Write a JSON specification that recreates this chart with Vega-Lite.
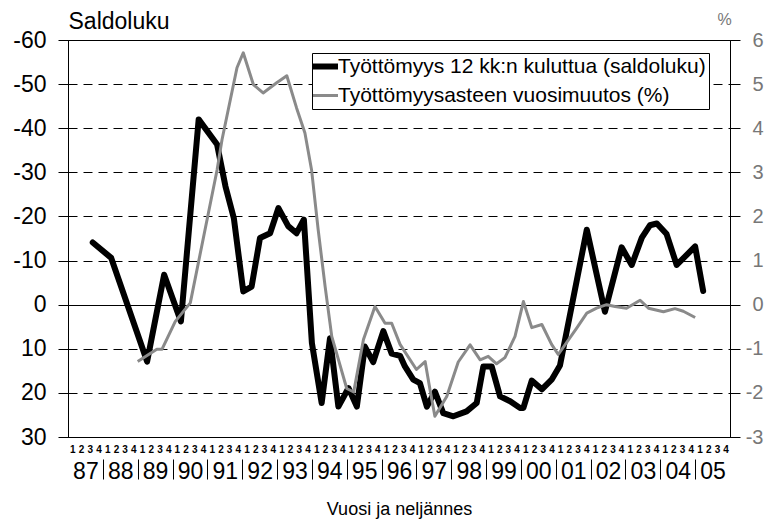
{
  "$schema": "https://vega.github.io/schema/vega-lite/v6.json",
  "width": 662,
  "height": 397,
  "autosize": "none",
  "padding": {"left": 68, "top": 40, "right": 37, "bottom": 91},
  "background": "white",
  "config": {
    "font": "Liberation Sans",
    "view": {"stroke": "black", "strokeWidth": 1},
    "axis": {"labelFont": "Liberation Sans", "titleFont": "Liberation Sans", "titleFontWeight": "normal"}
  },
  "datasets": {
    "black": [
      {"t": 1987.71, "saldoluku": -14.1}, {"t": 1988.24, "saldoluku": -10.6}, {"t": 1989.27, "saldoluku": 12.9},
      {"t": 1989.76, "saldoluku": -6.8}, {"t": 1990.24, "saldoluku": 3.8}, {"t": 1990.75, "saldoluku": -42.0},
      {"t": 1991.28, "saldoluku": -36.3}, {"t": 1991.52, "saldoluku": -26.8}, {"t": 1991.76, "saldoluku": -19.6},
      {"t": 1992.03, "saldoluku": -3.0}, {"t": 1992.27, "saldoluku": -4.1}, {"t": 1992.51, "saldoluku": -15.1},
      {"t": 1992.8, "saldoluku": -16.2}, {"t": 1993.04, "saldoluku": -21.9}, {"t": 1993.32, "saldoluku": -17.8},
      {"t": 1993.56, "saldoluku": -16.2}, {"t": 1993.77, "saldoluku": -19.3}, {"t": 1994.0, "saldoluku": 8.7},
      {"t": 1994.28, "saldoluku": 22.3}, {"t": 1994.52, "saldoluku": 7.6}, {"t": 1994.76, "saldoluku": 23.1},
      {"t": 1995.05, "saldoluku": 18.9}, {"t": 1995.29, "saldoluku": 23.1}, {"t": 1995.52, "saldoluku": 9.5},
      {"t": 1995.76, "saldoluku": 13.0}, {"t": 1996.05, "saldoluku": 6.0}, {"t": 1996.29, "saldoluku": 11.1},
      {"t": 1996.53, "saldoluku": 11.6}, {"t": 1996.67, "saldoluku": 14.0}, {"t": 1996.91, "saldoluku": 17.0},
      {"t": 1997.1, "saldoluku": 17.8}, {"t": 1997.3, "saldoluku": 23.1}, {"t": 1997.53, "saldoluku": 19.7},
      {"t": 1997.77, "saldoluku": 24.6}, {"t": 1998.06, "saldoluku": 25.3}, {"t": 1998.44, "saldoluku": 24.2},
      {"t": 1998.73, "saldoluku": 22.3}, {"t": 1998.92, "saldoluku": 14.0}, {"t": 1999.16, "saldoluku": 14.0},
      {"t": 1999.4, "saldoluku": 20.8}, {"t": 1999.69, "saldoluku": 21.9}, {"t": 1999.97, "saldoluku": 23.4},
      {"t": 2000.07, "saldoluku": 23.4}, {"t": 2000.31, "saldoluku": 17.2}, {"t": 2000.6, "saldoluku": 19.2},
      {"t": 2000.88, "saldoluku": 17.0}, {"t": 2001.12, "saldoluku": 13.8}, {"t": 2001.89, "saldoluku": -17.0},
      {"t": 2002.41, "saldoluku": 1.6}, {"t": 2002.89, "saldoluku": -13.0}, {"t": 2003.18, "saldoluku": -9.0},
      {"t": 2003.47, "saldoluku": -15.2}, {"t": 2003.7, "saldoluku": -18.0}, {"t": 2003.9, "saldoluku": -18.4},
      {"t": 2004.18, "saldoluku": -16.0}, {"t": 2004.47, "saldoluku": -9.0}, {"t": 2005.0, "saldoluku": -13.2},
      {"t": 2005.23, "saldoluku": -3.1}
    ],
    "gray": [
      {"t": 1989.0, "muutos": -1.29}, {"t": 1989.55, "muutos": -1.01}, {"t": 1989.7, "muutos": -1.01},
      {"t": 1990.08, "muutos": -0.38}, {"t": 1990.51, "muutos": 0.04}, {"t": 1991.28, "muutos": 3.06},
      {"t": 1991.42, "muutos": 3.74}, {"t": 1991.85, "muutos": 5.37}, {"t": 1992.03, "muutos": 5.71},
      {"t": 1992.32, "muutos": 4.99}, {"t": 1992.6, "muutos": 4.8}, {"t": 1992.99, "muutos": 5.03},
      {"t": 1993.28, "muutos": 5.19}, {"t": 1993.56, "muutos": 4.46}, {"t": 1993.8, "muutos": 3.89},
      {"t": 1993.99, "muutos": 3.06}, {"t": 1994.18, "muutos": 1.7}, {"t": 1994.38, "muutos": 0.41},
      {"t": 1994.57, "muutos": -0.72}, {"t": 1995.0, "muutos": -1.9}, {"t": 1995.2, "muutos": -1.98},
      {"t": 1995.48, "muutos": -0.79}, {"t": 1995.81, "muutos": -0.04}, {"t": 1996.1, "muutos": -0.42},
      {"t": 1996.29, "muutos": -0.42}, {"t": 1996.53, "muutos": -0.9}, {"t": 1997.0, "muutos": -1.47},
      {"t": 1997.25, "muutos": -1.29}, {"t": 1997.39, "muutos": -1.93}, {"t": 1997.53, "muutos": -2.53},
      {"t": 1997.87, "muutos": -2.08}, {"t": 1998.2, "muutos": -1.3}, {"t": 1998.54, "muutos": -0.91},
      {"t": 1998.83, "muutos": -1.25}, {"t": 1999.06, "muutos": -1.17}, {"t": 1999.3, "muutos": -1.34},
      {"t": 1999.54, "muutos": -1.2}, {"t": 1999.83, "muutos": -0.72}, {"t": 2000.07, "muutos": 0.07},
      {"t": 2000.31, "muutos": -0.52}, {"t": 2000.6, "muutos": -0.45}, {"t": 2000.88, "muutos": -0.9},
      {"t": 2001.07, "muutos": -1.13}, {"t": 2001.6, "muutos": -0.53}, {"t": 2001.89, "muutos": -0.19},
      {"t": 2002.17, "muutos": -0.08}, {"t": 2002.46, "muutos": 0.0}, {"t": 2002.7, "muutos": -0.04},
      {"t": 2003.03, "muutos": -0.08}, {"t": 2003.42, "muutos": 0.1}, {"t": 2003.66, "muutos": -0.08},
      {"t": 2004.09, "muutos": -0.16}, {"t": 2004.42, "muutos": -0.09}, {"t": 2004.66, "muutos": -0.15},
      {"t": 2005.0, "muutos": -0.29}
    ]
  },
  "layer": [
    {
      "data": {"name": "black"},
      "mark": {"type": "line", "strokeWidth": 6, "strokeJoin": "round", "strokeCap": "round"},
      "encoding": {
        "x": {
          "field": "t", "type": "quantitative",
          "scale": {"domain": [1987, 2006], "nice": false, "zero": false},
          "axis": {
            "orient": "bottom",
            "values": [1987.125,1987.375,1987.625,1987.875,1988.125,1988.375,1988.625,1988.875,1989.125,1989.375,1989.625,1989.875,1990.125,1990.375,1990.625,1990.875,1991.125,1991.375,1991.625,1991.875,1992.125,1992.375,1992.625,1992.875,1993.125,1993.375,1993.625,1993.875,1994.125,1994.375,1994.625,1994.875,1995.125,1995.375,1995.625,1995.875,1996.125,1996.375,1996.625,1996.875,1997.125,1997.375,1997.625,1997.875,1998.125,1998.375,1998.625,1998.875,1999.125,1999.375,1999.625,1999.875,2000.125,2000.375,2000.625,2000.875,2001.125,2001.375,2001.625,2001.875,2002.125,2002.375,2002.625,2002.875,2003.125,2003.375,2003.625,2003.875,2004.125,2004.375,2004.625,2004.875,2005.125,2005.375,2005.625,2005.875],
            "labelExpr": "toString(round((datum.value - floor(datum.value)) * 4 + 0.5))",
            "labelFontSize": 10, "labelFontWeight": "bold", "labelColor": "black",
            "labelPadding": 7, "ticks": false, "tickSize": 0, "grid": false,
            "domainColor": "black", "title": null,
            "labelFlush": false, "labelOverlap": false, "labelBound": false
          }
        },
        "y": {
          "field": "saldoluku", "type": "quantitative",
          "scale": {"domain": [-60, 30], "reverse": true, "nice": false, "zero": false},
          "axis": {
            "orient": "left",
            "values": [-60, -50, -40, -30, -20, -10, 0, 10, 20, 30],
            "labelExpr": "toString(datum.value)",
            "labelFontSize": 23, "labelColor": "black", "labelPadding": 12,
            "tickSize": 10, "tickColor": "black", "domainColor": "black",
            "grid": true, "gridColor": "black", "gridWidth": 1,
            "gridDash": {"condition": {"test": "datum.value === 0", "value": []}, "value": [9, 6]},
            "title": "Saldoluku", "titleAngle": 0, "titleAlign": "left", "titleBaseline": "alphabetic",
            "titleX": 0, "titleY": -12, "titleFontSize": 23, "titleColor": "black"
          }
        },
        "color": {
          "datum": "Työttömyys 12 kk:n kuluttua (saldoluku)",
          "scale": {
            "domain": ["Työttömyys 12 kk:n kuluttua (saldoluku)", "Työttömyysasteen vuosimuutos (%)"],
            "range": ["black", "#8a8a8a"]
          },
          "legend": {
            "orient": "none", "legendX": 244, "legendY": 13, "title": null,
            "labelFontSize": 21, "labelFont": "Liberation Sans", "labelColor": "black", "labelLimit": 600,
            "symbolType": "stroke", "symbolSize": 625,
            "symbolStrokeWidth": {"expr": "datum.value == 'Työttömyysasteen vuosimuutos (%)' ? 3 : 6"},
            "strokeColor": "black", "fillColor": "white", "padding": 3, "rowPadding": 5, "labelOffset": 2
          }
        }
      }
    },
    {
      "data": {"name": "gray"},
      "mark": {"type": "line", "strokeWidth": 3, "strokeJoin": "round"},
      "encoding": {
        "x": {
          "field": "t", "type": "quantitative",
          "axis": {
            "orient": "bottom", "offset": 22,
            "values": [1987,1988,1989,1990,1991,1992,1993,1994,1995,1996,1997,1998,1999,2000,2001,2002,2003,2004,2005],
            "labelExpr": "slice(toString(datum.value), 2)",
            "labelOffset": 17.42, "labelFontSize": 23, "labelColor": "black", "labelPadding": -19,
            "tickSize": 20,
            "tickColor": {"condition": {"test": "datum.value === 1987", "value": "transparent"}, "value": "black"},
            "domain": false, "grid": false,
            "labelFlush": false, "labelOverlap": false, "labelBound": false,
            "title": "Vuosi ja neljännes", "titleFontSize": 18, "titleColor": "black", "titlePadding": 17
          }
        },
        "y": {
          "field": "muutos", "type": "quantitative",
          "scale": {"domain": [-3, 6], "nice": false, "zero": false},
          "axis": {
            "orient": "right",
            "values": [-3, -2, -1, 0, 1, 2, 3, 4, 5, 6],
            "labelExpr": "toString(datum.value)",
            "labelFontSize": 20, "labelColor": "#777777", "labelPadding": 23, "labelAlign": "right",
            "tickSize": 10, "tickColor": "black", "domainColor": "black", "grid": false,
            "title": "%", "titleAngle": 0, "titleAlign": "center", "titleBaseline": "alphabetic",
            "titleX": -6, "titleY": -16, "titleFontSize": 16, "titleColor": "#777777"
          }
        },
        "color": {"datum": "Työttömyysasteen vuosimuutos (%)"}
      }
    }
  ],
  "resolve": {
    "scale": {"y": "independent"},
    "axis": {"x": "independent", "y": "independent"}
  }
}
